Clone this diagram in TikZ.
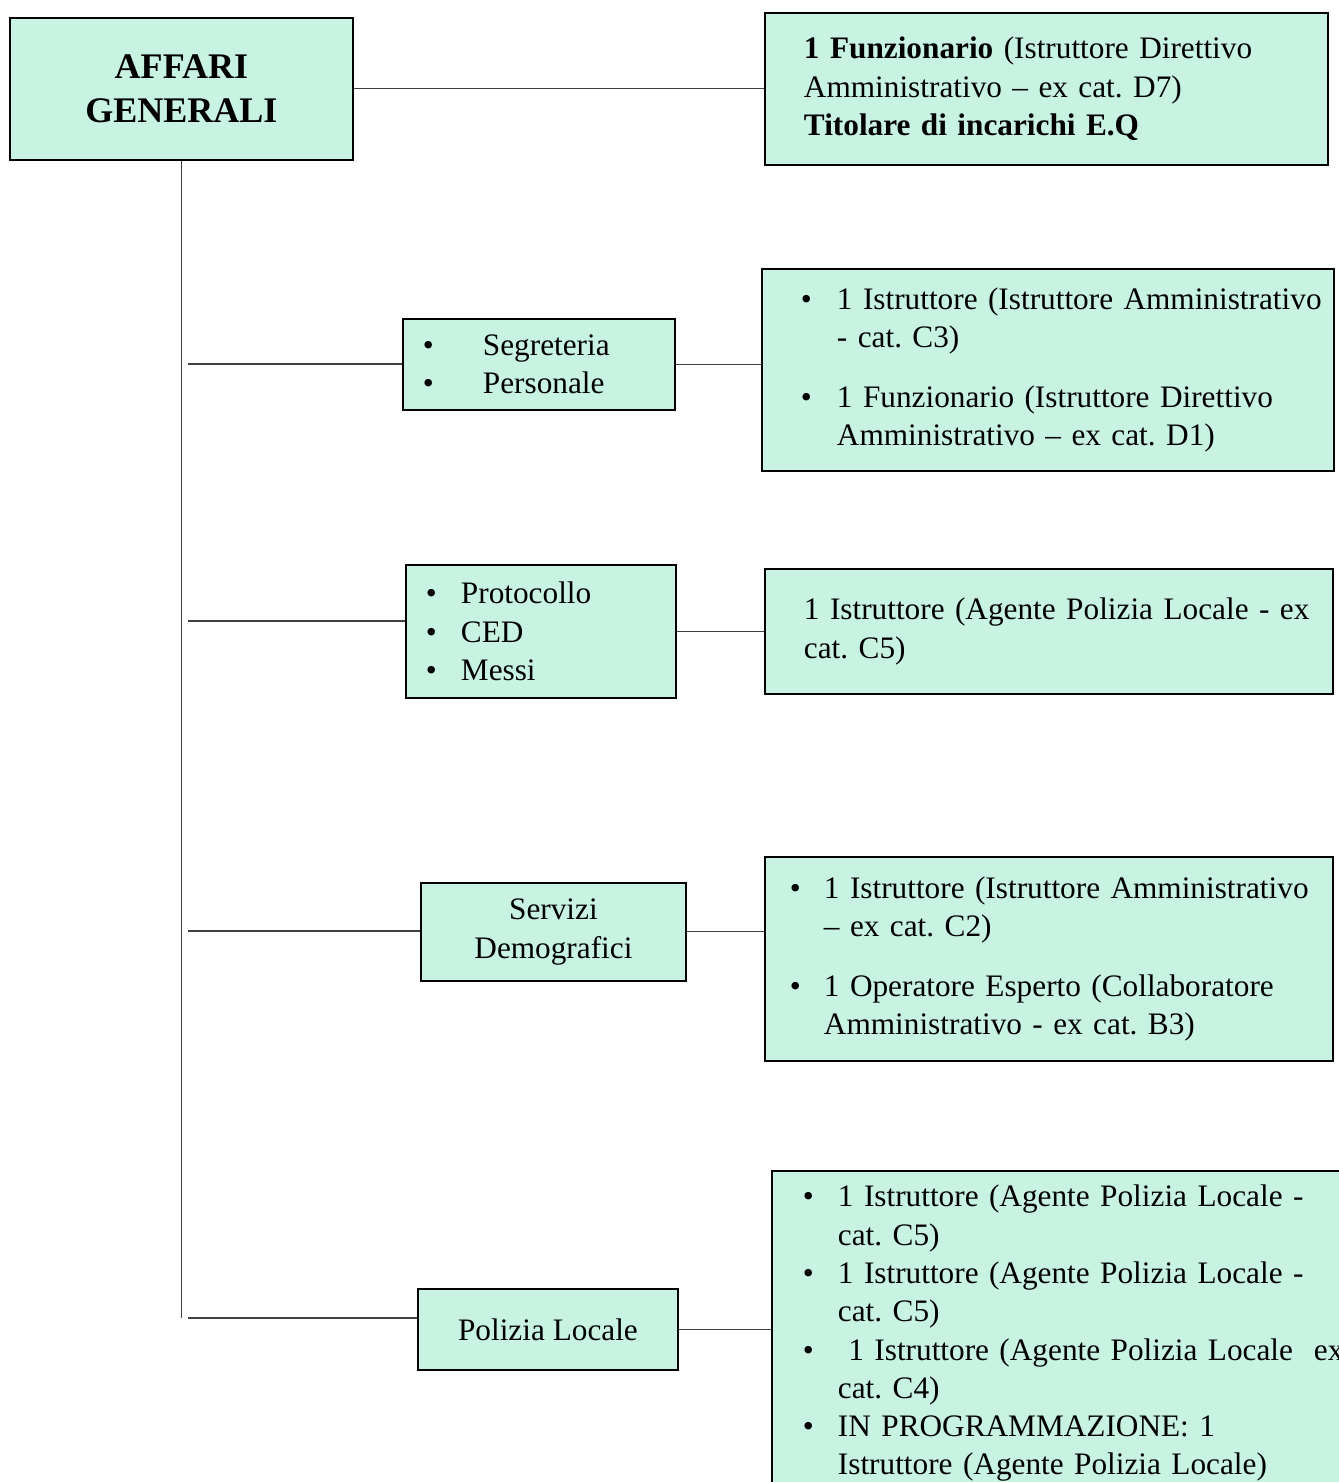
\documentclass[tikz,border=0pt]{standalone}
\usepackage{fontspec}
\setmainfont{Liberation Serif}
\frenchspacing
\definecolor{verde}{RGB}{200,243,226}
\newlength\pxu \setlength\pxu{0.02cm}
% one printed line; bullet lines and their follow-up lines
\newcommand{\riga}[1]{\mbox{#1}}
\newcommand{\pto}[2][35]{\mbox{\makebox[#1\pxu][l]{\textbullet}#2}}
\newcommand{\cnt}[2][35]{\mbox{\hspace*{#1\pxu}#2}}

\begin{document}
\begin{tikzpicture}[x=0.02cm,y=-0.02cm,
	ufficio/.style={draw=black, line width=1.1pt, fill=verde, anchor=north west, inner ysep=0pt,
		font=\fontsize{17.8}{21.8}\selectfont},
	linea/.style={draw=black!75, line width=0.6pt}]
	\useasboundingbox (0,0) rectangle (1339,1482);

	% unita' organizzative
	\node[ufficio, minimum width=6.86cm, minimum height=2.84cm, align=center,
		font=\bfseries\fontsize{20.5}{24.9}\selectfont] (ag) at (9,17) {AFFARI\\GENERALI};
	\node[ufficio, minimum width=5.44cm, minimum height=1.82cm, inner xsep=0.40cm, text width=4.64cm, align=left]
		(sp) at (402,318) {\pto[60]{Segreteria}\\\pto[60]{Personale}};
	\node[ufficio, minimum width=5.40cm, minimum height=2.66cm, inner xsep=0.40cm, text width=4.60cm, align=left]
		(pc) at (405,564) {\pto{Protocollo}\\\pto{CED}\\\pto{Messi}};
	\node[ufficio, minimum width=5.30cm, minimum height=1.96cm, align=center]
		(sd) at (420,882) {Servizi\\Demografici};
	\node[ufficio, minimum width=5.20cm, minimum height=1.62cm, align=center]
		(pl) at (417,1288) {Polizia Locale};

	% personale assegnato
	\node[ufficio, minimum width=11.26cm, minimum height=3.04cm, inner xsep=0.78cm, text width=9.70cm, align=left]
		(fz) at (764,12) {\riga{\textbf{1 Funzionario} (Istruttore Direttivo}\\
		\riga{Amministrativo -- ex cat. D7)}\\\riga{\textbf{Titolare di incarichi E.Q}}};
	\node[ufficio, minimum width=11.44cm, minimum height=4.04cm, inner xsep=0.78cm, text width=9.88cm, align=left]
		(r2) at (761,268) {\pto[36]{1 Istruttore (Istruttore Amministrativo}\\\cnt[36]{- cat. C3)}\\[0.44cm]
		\pto[36]{1 Funzionario (Istruttore Direttivo}\\\cnt[36]{Amministrativo -- ex cat. D1)}};
	\node[ufficio, minimum width=11.36cm, minimum height=2.50cm, inner xsep=0.78cm, text width=9.80cm, align=left]
		(r3) at (764,568) {\riga{1 Istruttore (Agente Polizia Locale - ex}\\\riga{cat. C5)}};
	\node[ufficio, minimum width=11.36cm, minimum height=4.08cm, inner xsep=0.50cm, text width=10.36cm, align=left]
		(r4) at (764,856) {\pto[34]{1 Istruttore (Istruttore Amministrativo}\\\cnt[34]{-- ex cat. C2)}\\[0.44cm]
		\pto[34]{1 Operatore Esperto (Collaboratore}\\\cnt[34]{Amministrativo - ex cat. B3)}};
	\node[ufficio, minimum width=11.60cm, minimum height=6.50cm, inner xsep=0.62cm, text width=10.36cm, align=left]
		(r5) at (771,1170) {\pto{1 Istruttore (Agente Polizia Locale -}\\\cnt{cat. C5)}\\
		\pto{1 Istruttore (Agente Polizia Locale -}\\\cnt{cat. C5)}\\
		\pto{\ 1 Istruttore (Agente Polizia Locale\ \ ex}\\\cnt{cat. C4)}\\
		\pto{IN PROGRAMMAZIONE: 1}\\\cnt{Istruttore (Agente Polizia Locale)}};

	% collegamenti
	\coordinate (b1) at (188,364);
	\coordinate (b2) at (188,621);
	\coordinate (b3) at (188,931);
	\coordinate (b4) at (188,1318);
	\draw[linea] (ag.south) -- (ag.south |- b4);
	\foreach \b/\u in {b1/sp,b2/pc,b3/sd,b4/pl}{
		\draw[linea] (\b) -- (\b -| \u.west);
	}
	\draw[linea] (ag.east) -- (ag.east -| fz.west);
	\draw[linea] (sp.east) -- (sp.east -| r2.west);
	\draw[linea] (pc.east) -- (pc.east -| r3.west);
	\draw[linea] (sd.east) -- (sd.east -| r4.west);
	\draw[linea] (pl.east) -- (pl.east -| r5.west);
\end{tikzpicture}
\end{document}
